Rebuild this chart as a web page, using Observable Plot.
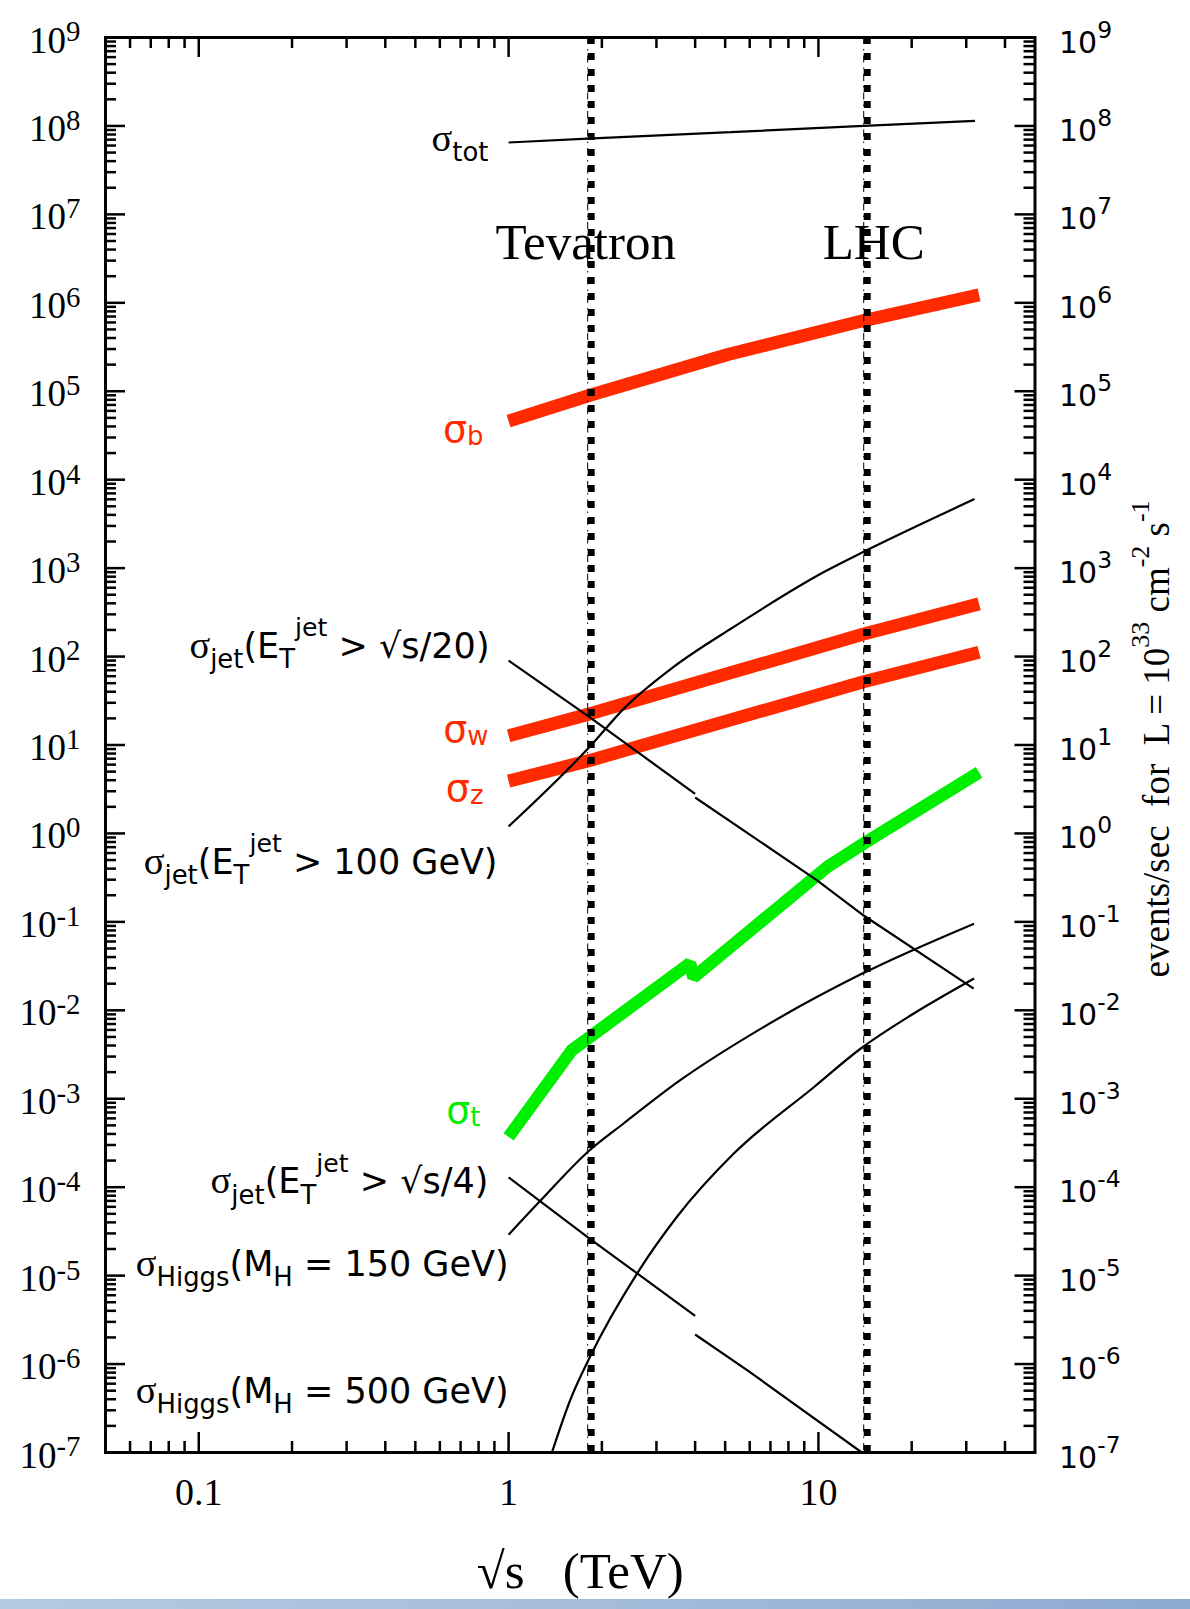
<!DOCTYPE html>
<html><head><meta charset="utf-8">
<script src="https://cdn.jsdelivr.net/npm/d3@7"></script>
<script src="https://cdn.jsdelivr.net/npm/@observablehq/plot@0.6"></script>
<style>
body{margin:0;background:#fff;}
#chart svg{display:block;}
#band{height:10px;background:linear-gradient(90deg,#b6c9e2,#a3bbda 55%,#8ca9cf);}
</style></head><body>
<div id="chart"></div><div id="band"></div>
<script>
const SERIF = "Liberation Serif, Times New Roman, serif";
const SANS = "DejaVu Sans, Verdana, sans-serif";

// ---- axes / ticks ----
const yExponents = [-7,-6,-5,-4,-3,-2,-1,0,1,2,3,4,5,6,7,8,9];
const yMinorMantissas = [2,3,4,5,6,7,8,9];
const xMajor = [0.1, 1, 10];
const xMajorLabels = ["0.1", "1", "10"];
const xMinor = [0.06,0.07,0.08,0.09,0.2,0.3,0.4,0.5,0.6,0.7,0.8,0.9,2,3,4,5,6,7,8,9,20,30,40];
const colliders = [1.8, 14];
const colliderNames = ["Tevatron", "LHC"];

// ---- series: [sqrt(s) TeV, events/sec] ----
const sigmaTot = [[1,6.5e7],[1.8,7.2e7],[5.2,8.5e7],[14,1.0e8],[32,1.14e8]];
const sigmaB = [[1,4.6e4],[1.83,9.0e4],[5.1,2.6e5],[14,6.3e5],[33,1.23e6]];
const sigmaW = [[1,12.7],[1.83,22.5],[14,180],[33,394]];
const sigmaZ = [[1,3.9],[1.83,6.7],[14,52],[33,112]];
const sigmaT = [[1,3.7e-4],[1.6,3.55e-3],[1.83,5.0e-3],[3.85,3.4e-2],[3.95,2.35e-2],[10.7,0.42],[14,0.77],[33,4.9]];
const sigmaJet20PPbar = [[1,90],[1.83,20.5],[4.0,2.8]];
const sigmaJet20PP = [[4.0,2.55],[9.9,0.295],[14,0.118],[31.7,0.0176]];
const sigmaJet100 = [[1,1.2],[1.83,9.6],[2.35,25.6],[3.4,76],[5.3,214],[10.6,933],[14.1,1550],[31.9,6030]];
const sigmaJet4PPbar = [[1,1.29e-4],[1.83,2.6e-5],[2.6,1.06e-5],[4.0,3.5e-6]];
const sigmaJet4PP = [[4.0,2.16e-6],[5.9,8.5e-7],[13.8,1.0e-7]];
const sigmaH150 = [[1,2.9e-5],[1.27,7.1e-5],[1.83,2.63e-4],[2.35,5.25e-4],[3.58,1.62e-3],[6.65,6.46e-3],[13.7,0.0255],[31.8,0.0955]];
const sigmaH500 = [[1.38,1.0e-7],[1.58,3.9e-7],[1.83,1.2e-6],[2.6,1.06e-5],[3.49,4.6e-5],[5.33,2.4e-4],[9.66,1.35e-3],[13.7,3.7e-3],[20,8.9e-3],[31.8,0.0229]];

// ---- curve labels (anchor = right end / baseline, in data units) ----
const blackLabels = [
  {text: "[σ]_{tot}", x: 0.861, y: 5.27e7},
  {text: "[σ]_{jet}(E_{T}^{jet} > √s/20)", x: 0.868, y: 97.5},
  {text: "[σ]_{jet}(E_{T}^{jet} > 100 GeV)", x: 0.921, y: 0.352},
  {text: "[σ]_{jet}(E_{T}^{jet} > √s/4)", x: 0.861, y: 8.5e-5},
  {text: "[σ]_{Higgs}(M_{H} = 150 GeV)", x: 1.0, y: 1.0e-5},
  {text: "[σ]_{Higgs}(M_{H} = 500 GeV)", x: 1.0, y: 3.67e-7}
];
const redLabels = [
  {text: "σ_{b}", x: 0.830, y: 2.70e4},
  {text: "σ_{w}", x: 0.861, y: 10.7},
  {text: "σ_{z}", x: 0.830, y: 2.30}
];
const greenLabels = [{text: "σ_{t}", x: 0.811, y: 5.38e-4}];
const xTitle = "√s\u00a0\u00a0\u00a0(TeV)";
const yTitleRight = "events/sec  for  L = 10^{33} cm^{-2} s^{-1}";

// ---- layout ----
const W = 1190, H = 1599;
const mL = 105, mR = 155.5, mT = 37, mB = 147;
const fw = W - mL - mR, fh = H - mT - mB;
const majorLen = 20, minorLen = 11;
const RED = "#ff2a00", GREEN = "#00ee00";

const yMajor = yExponents.map(e => 10 ** e);
const yMinor = yExponents.slice(0, -1).flatMap(e => yMinorMantissas.map(m => m * 10 ** e));

const tick = {stroke: "black", strokeWidth: 2.5};
const xy = {x: d => d[0], y: d => d[1], clip: true, strokeLinecap: "butt", strokeLinejoin: "miter"};
const thin = {...xy, stroke: "black", strokeWidth: 2.2};

const chart = Plot.plot({
  width: W, height: H,
  marginLeft: mL, marginRight: mR, marginTop: mT, marginBottom: mB,
  style: {background: "white", overflow: "visible"},
  x: {type: "log", domain: [0.05, 50], axis: null},
  y: {type: "log", domain: [1e-7, 1e9], axis: null},
  marks: [
    // ticks (inward)
    Plot.ruleY(yMajor, {y: d => d, insetRight: fw - majorLen, ...tick}),
    Plot.ruleY(yMinor, {y: d => d, insetRight: fw - minorLen, ...tick}),
    Plot.ruleY(yMajor, {y: d => d, insetLeft: fw - majorLen, ...tick}),
    Plot.ruleY(yMinor, {y: d => d, insetLeft: fw - minorLen, ...tick}),
    Plot.ruleX(xMajor, {x: d => d, insetBottom: fh - majorLen, ...tick}),
    Plot.ruleX(xMinor, {x: d => d, insetBottom: fh - minorLen, ...tick}),
    Plot.ruleX(xMajor, {x: d => d, insetTop: fh - majorLen, ...tick}),
    Plot.ruleX(xMinor, {x: d => d, insetTop: fh - minorLen, ...tick}),
    Plot.frame({stroke: "black", strokeWidth: 3}),

    // thick coloured curves
    Plot.line(sigmaB, {...xy, stroke: RED, strokeWidth: 13}),
    Plot.line(sigmaW, {...xy, stroke: RED, strokeWidth: 13}),
    Plot.line(sigmaZ, {...xy, stroke: RED, strokeWidth: 13}),
    Plot.line(sigmaT, {...xy, stroke: GREEN, strokeWidth: 12.5}),

    // thin black curves
    Plot.line(sigmaTot, thin),
    Plot.line(sigmaJet20PPbar, thin),
    Plot.line(sigmaJet20PP, thin),
    Plot.line(sigmaJet100, {...thin, curve: "monotone-x"}),
    Plot.line(sigmaJet4PPbar, thin),
    Plot.line(sigmaJet4PP, thin),
    Plot.line(sigmaH150, {...thin, curve: "monotone-x"}),
    Plot.line(sigmaH500, {...thin, curve: "monotone-x"}),

    // collider lines
    Plot.ruleX(colliders, {x: d => d, stroke: "black", strokeWidth: 1, strokeDasharray: "7,5,1.5,5"}),
    Plot.ruleX(colliders, {x: d => d, dx: 3.5, stroke: "black", strokeWidth: 7, strokeDasharray: "7,9"}),
    Plot.text(colliders, {x: d => d, text: (d, i) => colliderNames[i], frameAnchor: "top", dy: 221,
      textAnchor: "middle", lineAnchor: "bottom", fontFamily: SERIF, fontSize: 51, fill: "black"}),

    // curve labels
    Plot.text(blackLabels, {x: "x", y: "y", text: "text", textAnchor: "end", lineAnchor: "bottom",
      fontFamily: SANS, fontSize: 35, fill: "black", ariaDescription: "rich-black"}),
    Plot.text(redLabels, {x: "x", y: "y", text: "text", textAnchor: "end", lineAnchor: "bottom",
      fontFamily: SANS, fontSize: 38, fill: RED, ariaDescription: "rich-color"}),
    Plot.text(greenLabels, {x: "x", y: "y", text: "text", textAnchor: "end", lineAnchor: "bottom",
      fontFamily: SANS, fontSize: 38, fill: GREEN, ariaDescription: "rich-color"}),

    // tick labels
    Plot.text(yExponents, {y: e => 10 ** e, text: e => `10^{${e}}`, frameAnchor: "left", dx: -25, dy: 15,
      textAnchor: "end", lineAnchor: "bottom", fontFamily: SERIF, fontSize: 37, ariaDescription: "rich-left"}),
    Plot.text(yExponents, {y: e => 10 ** e, text: e => `10^{${e}}`, frameAnchor: "right", dx: 24, dy: 15,
      textAnchor: "start", lineAnchor: "bottom", fontFamily: SANS, fontSize: 30, ariaDescription: "rich-right"}),
    Plot.text(xMajor, {x: d => d, text: (d, i) => xMajorLabels[i], frameAnchor: "bottom", dy: 52,
      textAnchor: "middle", lineAnchor: "bottom", fontFamily: SERIF, fontSize: 38}),

    // axis titles
    Plot.text([xTitle], {text: d => d, frameAnchor: "bottom", dx: 10, dy: 135, textAnchor: "middle",
      lineAnchor: "bottom", fontFamily: SERIF, fontSize: 51}),
    Plot.text([yTitleRight], {text: d => d, frameAnchor: "right", dx: 134, dy: -6, rotate: -90,
      textAnchor: "middle", lineAnchor: "bottom", fontFamily: SERIF, fontSize: 37, ariaDescription: "rich-title"})
  ]
});

document.getElementById("chart").appendChild(chart);

// collider name nudges
chart.querySelectorAll("text").forEach(t => {
  if (t.textContent === "Tevatron") t.setAttribute("dx", -2);
  if (t.textContent === "LHC") t.setAttribute("dx", 10);
});

// rich text: [..] serif, _{..} subscript, ^{..} superscript
const richCfg = {
  "rich-black": {subSize: 0.74, subDy: 0.3, supSize: 0.72, supDy: -0.62, serifSize: 1.1},
  "rich-color": {subSize: 0.68, subDy: 0.08, supSize: 0.68, supDy: -0.6, serifSize: 1.0},
  "rich-left": {subSize: 0.75, subDy: 0.3, supSize: 0.78, supDy: -0.3, serifSize: 1.0},
  "rich-right": {subSize: 0.75, subDy: 0.3, supSize: 0.78, supDy: -0.5, serifSize: 1.0},
  "rich-title": {subSize: 0.7, subDy: 0.3, supSize: 0.7, supDy: -0.55, serifSize: 1.0}
};
function tokenize(s) {
  const out = [];
  let i = 0;
  const isMark = k => ((s[k] === "_" || s[k] === "^") && s[k + 1] === "{") || s[k] === "[";
  while (i < s.length) {
    if ((s[i] === "_" || s[i] === "^") && s[i + 1] === "{") {
      const j = s.indexOf("}", i);
      out.push({type: s[i] === "_" ? "sub" : "sup", text: s.slice(i + 2, j)});
      i = j + 1;
    } else if (s[i] === "[") {
      const j = s.indexOf("]", i);
      out.push({type: "serif", text: s.slice(i + 1, j)});
      i = j + 1;
    } else {
      let j = i;
      while (j < s.length && !isMark(j)) j++;
      out.push({type: "normal", text: s.slice(i, j)});
      i = j;
    }
  }
  return out;
}
for (const [key, cfg] of Object.entries(richCfg)) {
  chart.querySelectorAll(`g[aria-description="${key}"] text`).forEach(t => {
    const base = parseFloat(getComputedStyle(t).fontSize);
    const toks = tokenize(t.textContent);
    while (t.firstChild) t.removeChild(t.firstChild);
    t.style.whiteSpace = "pre";
    let cur = 0;
    for (const tok of toks) {
      const ts = document.createElementNS("http://www.w3.org/2000/svg", "tspan");
      let off = 0, size = base;
      if (tok.type === "sub") { off = cfg.subDy * base; size = cfg.subSize * base; }
      else if (tok.type === "sup") { off = cfg.supDy * base; size = cfg.supSize * base; }
      else if (tok.type === "serif") { size = cfg.serifSize * base; ts.setAttribute("font-family", SERIF); }
      if (off !== cur) ts.setAttribute("dy", (off - cur).toFixed(2));
      cur = off;
      ts.setAttribute("font-size", size.toFixed(2));
      ts.textContent = tok.text;
      t.appendChild(ts);
    }
  });
}
</script>
</body></html>
